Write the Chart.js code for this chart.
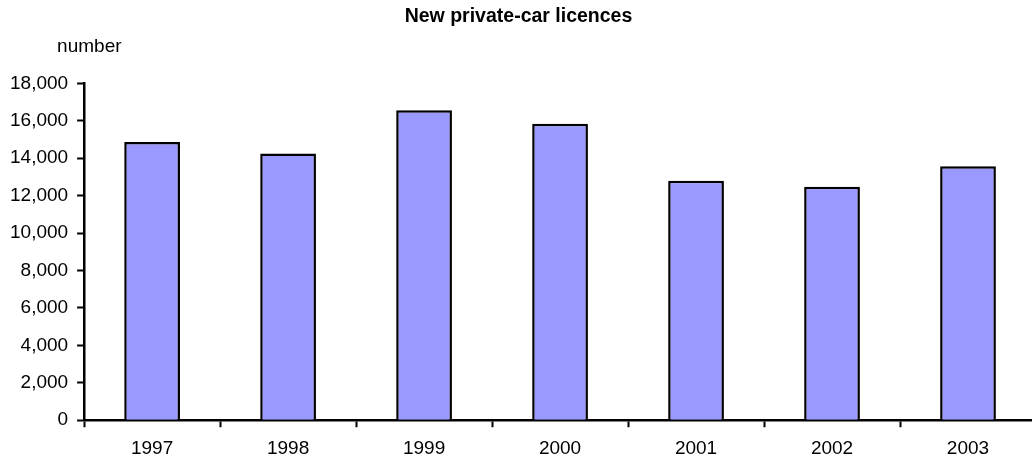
<!DOCTYPE html>
<html>
<head>
<meta charset="utf-8">
<title>New private-car licences</title>
<script src="https://cdn.jsdelivr.net/npm/chart.js@4.4.1/dist/chart.umd.min.js"></script>
<style>
  html, body { margin: 0; padding: 0; background: #fff; overflow: hidden; }
  #chart { display: block; }
</style>
</head>
<body>
<canvas id="chart" width="1040" height="461"></canvas>
<script>
// licences issued per year
var years = ['1997', '1998', '1999', '2000', '2001', '2002', '2003'];
var licences = [14870, 14250, 16570, 15840, 12800, 12480, 13570];
var yTicks = [0, 2000, 4000, 6000, 8000, 10000, 12000, 14000, 16000, 18000];

var FONT = "'Liberation Sans', Arial, sans-serif";

// unit label above the value axis
var unitLabel = {
    id: 'unitLabel',
    afterDraw: function (chart) {
        var ctx = chart.ctx;
        ctx.save();
        ctx.font = '19px ' + FONT;
        ctx.fillStyle = '#000';
        ctx.textAlign = 'left';
        ctx.textBaseline = 'middle';
        ctx.fillText('number', chart.chartArea.left - 27, 47);
        ctx.restore();
    }
};

new Chart(document.getElementById('chart'), {
    type: 'bar',
    data: {
        labels: years,
        datasets: [{
            data: licences,
            backgroundColor: '#9999FF',
            borderColor: '#000',
            borderWidth: 2.5,
            borderSkipped: 'bottom',
            categoryPercentage: 1,
            barPercentage: 0.41
        }]
    },
    options: {
        responsive: false,
        animation: false,
        layout: { padding: { left: 1, right: 4, top: 0, bottom: -9 } },
        plugins: {
            legend: { display: false },
            tooltip: { enabled: false },
            title: {
                display: true,
                text: 'New private-car licences',
                color: '#000',
                font: { family: FONT, size: 19.5, weight: 'bold' },
                padding: { top: 5, bottom: 55 }
            }
        },
        scales: {
            x: {
                offset: true,
                grid: {
                    offset: true,
                    drawOnChartArea: false,
                    drawTicks: true,
                    tickLength: 7,
                    tickWidth: 2,
                    tickColor: '#000'
                },
                border: { display: true, color: '#000', width: 2.5 },
                ticks: {
                    color: '#000',
                    padding: 10,
                    font: { family: FONT, size: 19 }
                }
            },
            y: {
                min: 0,
                max: 18000,
                afterBuildTicks: function (axis) {
                    axis.ticks = yTicks.map(function (v) { return { value: v }; });
                },
                grid: {
                    drawOnChartArea: false,
                    drawTicks: true,
                    tickLength: 7,
                    tickWidth: 2,
                    tickColor: '#000'
                },
                border: { display: true, color: '#000', width: 2.5 },
                ticks: {
                    color: '#000',
                    padding: 9,
                    font: { family: FONT, size: 19 },
                    callback: function (v) { return Number(v).toLocaleString('en-US'); }
                }
            }
        }
    },
    plugins: [unitLabel]
});
</script>
</body>
</html>
